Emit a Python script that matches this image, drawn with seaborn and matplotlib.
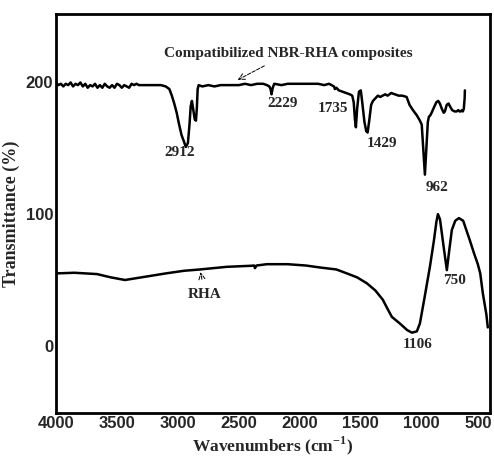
import numpy as np
import pandas as pd
import matplotlib
matplotlib.use("Agg")
import matplotlib.pyplot as plt
import matplotlib.transforms as mtransforms
import seaborn as sns

# composite spectrum (wavenumber, transmittance)
comp_wn = [4000, 3980, 3960, 3940, 3920, 3900, 3880, 3860, 3840, 3820, 3800, 3780,
           3760, 3740, 3720, 3700, 3680, 3660, 3640, 3620, 3600, 3580, 3560, 3540,
           3520, 3500, 3480, 3460, 3440, 3420, 3400, 3380, 3360, 3340, 3320, 3300,
           3260, 3220, 3180, 3140, 3100, 3070, 3050, 3030, 3010, 2990, 2970, 2950,
           2935, 2918, 2905, 2895, 2885, 2875, 2862, 2852, 2845, 2838, 2830, 2800,
           2750, 2700, 2650, 2600, 2550, 2500, 2450, 2400, 2350, 2300, 2270, 2250,
           2240, 2232, 2222, 2210, 2150, 2100, 2050, 2000, 1950, 1900, 1850, 1800,
           1760, 1740, 1720, 1712, 1700, 1680, 1650, 1620, 1590, 1570, 1558, 1548,
           1540, 1530, 1515, 1500, 1488, 1470, 1455, 1444, 1432, 1415, 1400, 1380,
           1360, 1340, 1320, 1300, 1280, 1250, 1220, 1190, 1160, 1124, 1100, 1072,
           1040, 1015, 1000, 988, 974, 962, 950, 941, 930, 919, 900, 880, 865, 851,
           835, 820, 810, 795, 780, 769, 750, 730, 714, 700, 690, 680, 670, 663, 655,
           648, 646]
comp_t = [200, 198, 199, 197, 199, 198, 200, 197, 199, 198, 200, 197,
          199, 196, 198, 197, 199, 196, 198, 196, 199, 197, 196, 198,
          196, 199, 198, 196, 198, 197, 196, 199, 198, 199, 198, 198,
          198, 198, 198, 198, 197, 195, 190, 184, 177, 168, 160, 155,
          151, 154, 168, 182, 186, 180, 172, 171, 180, 195, 198, 197,
          198, 197, 198, 198, 198, 198, 199, 198, 199, 199, 198, 197,
          195, 191, 196, 199, 198, 199, 199, 199, 199, 199, 199, 198,
          199, 198, 197, 195, 196, 194, 193, 192, 191, 190, 185, 172,
          166, 180, 193, 194, 185, 170, 163, 162, 170, 183, 186, 188,
          190, 189, 190, 191, 190, 192, 191, 190, 190, 189, 183, 179,
          175, 171, 168, 150, 130, 150, 170, 174, 175, 177, 181, 185, 186, 184,
          180, 177, 178, 183, 184, 182, 179, 178, 178, 179, 178, 178, 179, 178, 180,
          188, 194]

# RHA spectrum
rha_wn = [4000, 3850, 3664, 3550, 3434, 3300, 3100, 2950, 2819, 2600, 2400, 2375,
          2368, 2355, 2270, 2100, 1950, 1835, 1700, 1614, 1530, 1450, 1380, 1319,
          1280, 1245, 1180, 1120, 1081, 1040, 1015, 980, 933, 900, 880, 867, 850,
          820, 794, 775, 753, 725, 695, 660, 605, 570, 540, 520, 499, 470, 458]
rha_t = [55, 55.5, 54.5, 52, 50, 52, 55, 57, 58, 60, 60.8, 61,
         59, 61, 62, 62, 61, 59.5, 58, 55, 52, 47.5, 42, 35,
         28, 22, 17, 12, 10, 11, 17, 35, 60, 80, 94, 100, 96,
         75, 57.5, 72, 88, 95, 97, 95, 80, 70, 62, 55, 40, 24, 14]

peak_labels = ["2912", "2229", "1735", "1429", "962", "1106", "750"]
peak_x = [2983, 2139, 1729, 1327, 876, 1032, 728]
peak_y = [147, 184, 180, 154, 120, 1, 50]

df = pd.concat([
    pd.DataFrame({"wn": comp_wn, "T": comp_t, "sample": "comp"}),
    pd.DataFrame({"wn": rha_wn, "T": rha_t, "sample": "rha"}),
])

sns.set_style("white")
plt.rcParams["font.family"] = ["Liberation Serif", "DejaVu Serif"]
plt.rcParams["mathtext.fontset"] = "custom"
plt.rcParams["mathtext.rm"] = "Liberation Serif:bold"

fig, ax = plt.subplots(figsize=(4.94, 4.59), dpi=100)
fig.subplots_adjust(left=56 / 494, right=490 / 494, top=1 - 14 / 459, bottom=1 - 413 / 459)

sns.lineplot(data=df, x="wn", y="T", units="sample", estimator=None, sort=False,
             color="black", linewidth=1.8, ax=ax)

ax.set_xlim(4000, 440)
ax.set_ylim(-51, 252)
ax.set_xticks([4000, 3500, 3000, 2500, 2000, 1500, 1000, 500])
ax.set_yticks([0, 100, 200])
ax.tick_params(length=0, pad=2)
for lab in ax.get_xticklabels() + ax.get_yticklabels():
    lab.set_fontfamily("Liberation Sans")
    lab.set_fontweight("bold")
    lab.set_fontsize(12)

# last x label sits on the figure edge, nudge it in a little
last = ax.get_xticklabels()[-1]
last.set_transform(last.get_transform() + mtransforms.ScaledTranslation(-4 / 100, 0, fig.dpi_scale_trans))

for s in ax.spines.values():
    s.set_linewidth(2)
    s.set_color("black")

ax.set_xlabel(r"Wavenumbers (cm$^{\mathregular{-1}}$)", fontsize=12.5, fontweight="bold", labelpad=3)
ax.set_ylabel("Transmittance (%)", fontsize=13, fontweight="bold", labelpad=4)

for lab, x, y in zip(peak_labels, peak_x, peak_y):
    ax.text(x, y, lab, ha="center", va="center", fontsize=11, fontweight="bold")

ax.annotate("Compatibilized NBR-RHA composites", xy=(2530, 201), xytext=(2098, 222),
            ha="center", va="center", fontsize=11, fontweight="bold",
            arrowprops=dict(arrowstyle="->", lw=0.7, ls="--", color="black", shrinkA=4))
ax.annotate("RHA", xy=(2819, 58), xytext=(2778, 39),
            ha="center", va="center", fontsize=11, fontweight="bold",
            arrowprops=dict(arrowstyle="->", lw=0.7, ls="--", color="black", shrinkA=4))

fig.savefig("out.png", dpi=100)
